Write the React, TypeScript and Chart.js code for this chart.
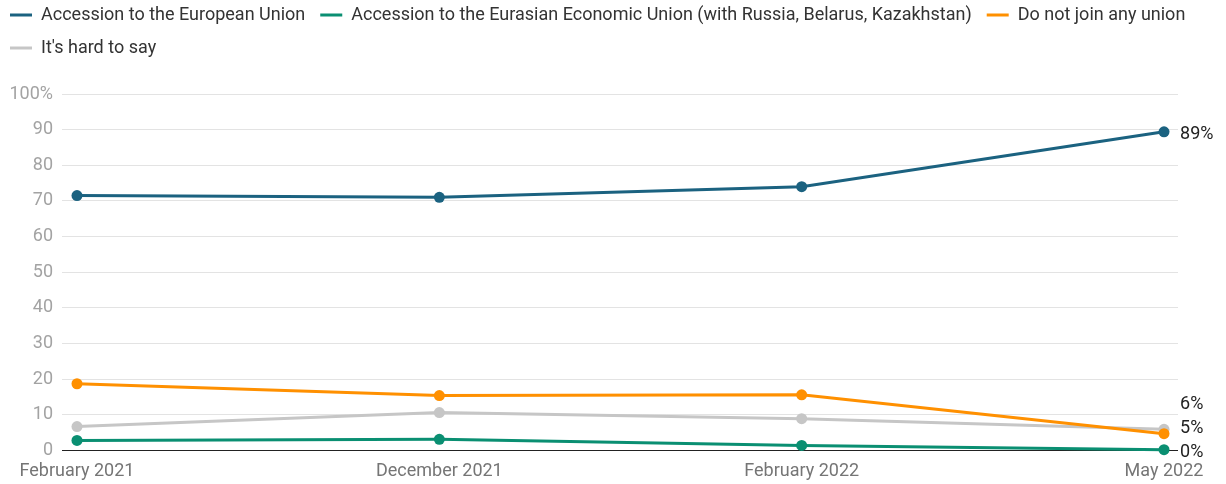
import React, { useEffect, useRef } from "react";
import { Chart, registerables } from "chart.js";

Chart.register(...registerables);

const categories = ["February 2021", "December 2021", "February 2022", "May 2022"];
const seriesNames = [
  "Accession to the European Union",
  "Accession to the Eurasian Economic Union (with Russia, Belarus, Kazakhstan)",
  "Do not join any union",
  "It's hard to say",
];
const euValues = [71.5, 71, 74, 89.4];
const eaeuValues = [2.8, 3.1, 1.4, 0.2];
const noUnionValues = [18.7, 15.4, 15.6, 4.7];
const hardToSayValues = [6.7, 10.6, 8.9, 5.9];
const endLabels = ["89%", "0%", "5%", "6%"];
const colors = ["#1b6280", "#0a8f72", "#ff9000", "#c6c6c6"];
const yTickValues = [0, 10, 20, 30, 40, 50, 60, 70, 80, 90, 100];

const FONT = "Roboto, 'Noto Sans', sans-serif";

export default function App() {
  const ref = useRef<HTMLCanvasElement | null>(null);

  useEffect(() => {
    document.body.style.margin = "0";
    const all = [euValues, eaeuValues, noUnionValues, hardToSayValues];

    const legendShift = {
      id: "legendShift",
      afterLayout(chart: any) {
        const lg = chart.legend;
        if (lg) {
          const h = lg.bottom - lg.top;
          const w = lg.right - lg.left;
          lg.top = -9;
          lg.bottom = lg.top + h;
          lg.left = -5;
          lg.right = lg.left + w;
        }
      },
    };

    const endLabelPlugin = {
      id: "endLabels",
      afterDatasetsDraw(chart: any) {
        const ctx = chart.ctx;
        const items = chart.data.datasets.map((ds: any, i: number) => {
          const meta = chart.getDatasetMeta(i);
          const pt = meta.data[meta.data.length - 1];
          return { x: pt.x, y: pt.y, text: endLabels[i] };
        });
        items.sort((a: any, b: any) => b.y - a.y);
        let prev = Infinity;
        ctx.save();
        ctx.font = `18px ${FONT}`;
        ctx.fillStyle = "#222";
        ctx.textAlign = "left";
        ctx.textBaseline = "middle";
        items.forEach((it: any) => {
          let y = it.y + 3;
          if (y > prev - 24) y = prev - 24;
          prev = y;
          ctx.fillText(it.text, it.x + 16, y);
        });
        ctx.restore();
      },
    };

    const chart = new Chart(ref.current as HTMLCanvasElement, {
      type: "line",
      data: {
        datasets: all.map((vals, i) => ({
          label: seriesNames[i],
          data: vals.map((v, j) => ({ x: j, y: v })),
          borderColor: colors[i],
          backgroundColor: colors[i],
          pointBackgroundColor: colors[i],
          pointBorderColor: colors[i],
          borderWidth: 3,
          pointRadius: 5.5,
          pointBorderWidth: 0,
          tension: 0,
          clip: false as any,
        })),
      },
      options: {
        animation: false,
        responsive: true,
        maintainAspectRatio: false,
        layout: { padding: { left: 0, right: 0, top: 18, bottom: 0 } },
        plugins: {
          legend: {
            position: "top",
            align: "start",
            labels: {
              usePointStyle: true,
              pointStyle: "line",
              pointStyleWidth: 22,
              padding: 15,
              color: "#333",
              font: { family: FONT, size: 18 },
              generateLabels(chart: any) {
                return chart.data.datasets.map((ds: any, i: number) => ({
                  text: ds.label,
                  fillStyle: colors[i],
                  strokeStyle: colors[i],
                  lineWidth: 3,
                  pointStyle: "line",
                  hidden: false,
                  datasetIndex: i,
                  fontColor: "#333",
                }));
              },
            },
          },
          tooltip: { enabled: false },
        },
        scales: {
          x: {
            type: "linear",
            min: -0.0414,
            max: 3.0386,
            afterBuildTicks(scale: any) {
              scale.ticks = categories.map((_, i) => ({ value: i }));
            },
            grid: { display: false },
            border: { display: false },
            ticks: {
              color: "#757575",
              font: { family: FONT, size: 18, lineHeight: 1.2 },
              padding: 2,
              maxRotation: 0,
              autoSkip: false,
              callback: (v: any) => categories[Number(v)] ?? "",
            },
          },
          y: {
            min: 0,
            max: 100,
            afterBuildTicks(scale: any) {
              scale.ticks = yTickValues.map((v) => ({ value: v }));
            },
            afterFit(scale: any) {
              scale.width = 62;
            },
            border: { display: false },
            grid: {
              drawTicks: false,
              lineWidth: 1,
              color: (c: any) => (c.tick && c.tick.value === 0 ? "#222" : "#e3e3e3"),
            },
            ticks: {
              color: "#a3a3a3",
              font: { family: FONT, size: 18 },
              padding: 9,
              callback: (v: any) => (Number(v) === 100 ? "100%" : String(v)),
            },
          },
          yRight: {
            position: "right",
            min: 0,
            max: 100,
            afterFit(scale: any) {
              scale.width = 48;
            },
            grid: { display: false },
            border: { display: false },
            ticks: { display: false },
          },
        },
      },
      plugins: [legendShift, endLabelPlugin],
    });
    return () => chart.destroy();
  }, []);

  return (
    <div style={{ width: 1226, height: 484, position: "relative" }}>
      <canvas ref={ref} />
    </div>
  );
}
